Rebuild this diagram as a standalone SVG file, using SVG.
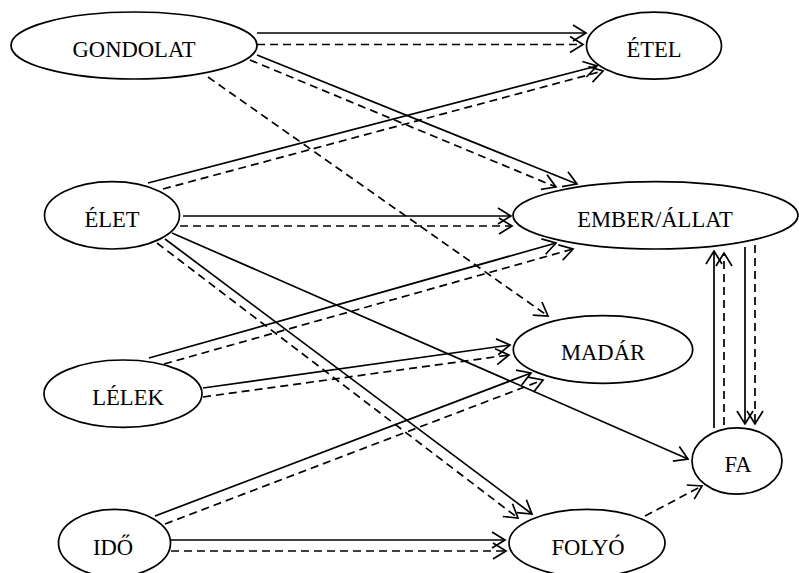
<svg xmlns="http://www.w3.org/2000/svg" width="799" height="573" viewBox="0 0 799 573">
<style>
.n ellipse{fill:#fff;stroke:#000;stroke-width:1.7}
.n text{font-family:"Liberation Serif","Times New Roman",serif;font-size:22.6px;text-anchor:middle;fill:#000}
.c line{stroke:#000;stroke-width:1.7;fill:none;marker-end:url(#ah)}
.c line.d{stroke-dasharray:8 5}
</style>
<defs>
<marker id="ah" viewBox="0 0 16 18" refX="14" refY="9" markerWidth="16" markerHeight="18" markerUnits="userSpaceOnUse" orient="auto">
<path d="M1,1 L14,9 L1,17" fill="none" stroke="#000" stroke-width="1.7"/>
</marker>
</defs>
<rect width="799" height="573" fill="#fff"/>
<g id="connectors" class="c">
<line x1="257" y1="33" x2="586" y2="33"/>
<line class="d" x1="257" y1="44.5" x2="583" y2="44.5"/>
<line x1="257" y1="55" x2="577" y2="184"/>
<line class="d" x1="250" y1="60" x2="556" y2="187"/>
<line class="d" x1="208" y1="77" x2="548" y2="316"/>
<line x1="148" y1="183" x2="597" y2="66"/>
<line class="d" x1="163" y1="189" x2="603" y2="71"/>
<line x1="183" y1="216" x2="511" y2="216"/>
<line class="d" x1="180" y1="226" x2="512" y2="226"/>
<line x1="172" y1="233" x2="688" y2="459"/>
<line x1="165" y1="239" x2="532" y2="514"/>
<line class="d" x1="157" y1="243" x2="518" y2="518"/>
<line x1="149" y1="358" x2="556" y2="243"/>
<line class="d" x1="164" y1="364" x2="573" y2="249"/>
<line x1="203" y1="388" x2="510" y2="345"/>
<line class="d" x1="203" y1="397" x2="509" y2="355"/>
<line x1="155" y1="516" x2="531" y2="373"/>
<line class="d" x1="165" y1="524" x2="543" y2="380"/>
<line x1="171" y1="540" x2="505" y2="540"/>
<line class="d" x1="171" y1="551" x2="506" y2="551"/>
<line class="d" x1="645" y1="516" x2="702" y2="486"/>
<line x1="714" y1="428" x2="714" y2="251"/>
<line class="d" x1="724" y1="425" x2="724" y2="253"/>
<line x1="745" y1="247" x2="745" y2="424"/>
<line class="d" x1="755" y1="245" x2="755" y2="424"/>
</g>
<g id="gondolat" class="n"><ellipse cx="134" cy="45.5" rx="123" ry="33.5"/><text x="134" y="57">GONDOLAT</text></g>
<g id="etel" class="n"><ellipse cx="654" cy="45.7" rx="67.5" ry="33.5"/><text x="654" y="57">ÉTEL</text></g>
<g id="elet" class="n"><ellipse cx="112" cy="215.3" rx="67.5" ry="33.7"/><text x="112" y="227">ÉLET</text></g>
<g id="ember" class="n"><ellipse cx="655.5" cy="215.3" rx="142.5" ry="33.7"/><text x="655" y="227">EMBER/ÁLLAT</text></g>
<g id="madar" class="n"><ellipse cx="603" cy="349.5" rx="89.7" ry="33.8"/><text x="603" y="360">MADÁR</text></g>
<g id="lelek" class="n"><ellipse cx="123" cy="393.7" rx="79" ry="33.7"/><text x="128" y="405">LÉLEK</text></g>
<g id="ido" class="n"><ellipse cx="114.5" cy="543" rx="56" ry="33.7"/><text x="113" y="555">IDŐ</text></g>
<g id="fa" class="n"><ellipse cx="737" cy="461" rx="45" ry="33.2"/><text x="738" y="472">FA</text></g>
<g id="folyo" class="n"><ellipse cx="587" cy="543" rx="78" ry="33.7"/><text x="588" y="555">FOLYÓ</text></g>
</svg>
